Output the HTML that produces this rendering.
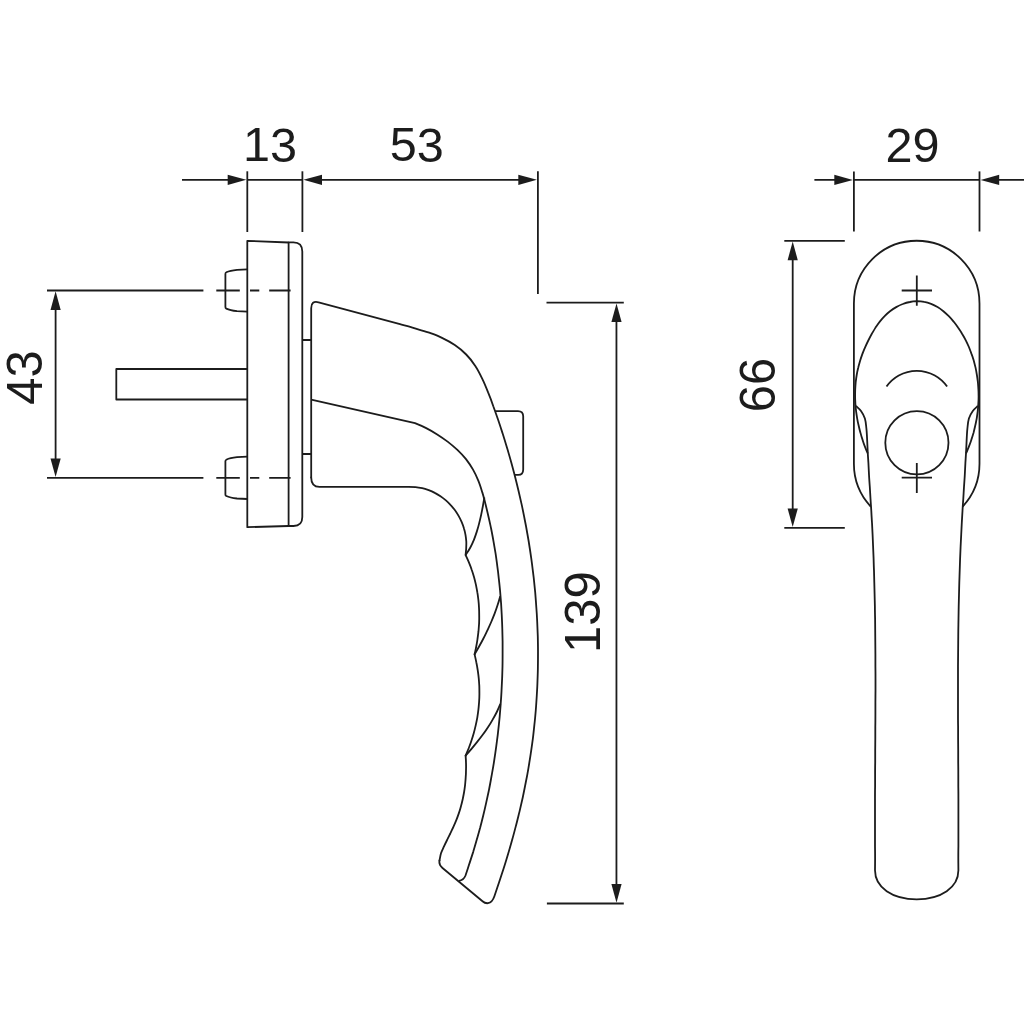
<!DOCTYPE html>
<html lang="en">
<head>
<meta charset="utf-8">
<title>Window handle – dimensional drawing</title>
<style>
html,body{margin:0;padding:0;background:#fff;}
body{width:1024px;height:1024px;overflow:hidden;}
svg{display:block;}
.ln{fill:none;stroke:#1c1c1c;stroke-width:1.8;stroke-linecap:butt;stroke-linejoin:round;}
.ar{fill:#1c1c1c;stroke:none;}
.tx{font-family:"Liberation Sans",sans-serif;font-size:49.0px;fill:#1c1c1c;text-anchor:middle;}
</style>
</head>
<body>
<svg width="1024" height="1024" viewBox="0 0 1024 1024" role="img" aria-label="Window handle dimensional drawing">
<rect width="1024" height="1024" fill="#fff"/>
<g class="ln">
<path d="M182,179.8 H232 M247.3,179.8 H302.4 M318,179.8 H522"/>
<path d="M247.3,171.3 V232"/>
<path d="M302.4,171.3 V232"/>
<path d="M537.9,171.3 V293.9"/>
<path d="M47,290.5 H203.4"/>
<path d="M216.3,290.5 H239.8 M250,290.5 H259.3 M269.2,290.5 H290.6"/>
<path d="M47,477.9 H203.4"/>
<path d="M216.3,477.9 H239.8 M250,477.9 H259.3 M269.2,477.9 H290.6"/>
<path d="M55.6,302.5 V465.9"/>
<path d="M546.5,302.6 H623.8"/>
<path d="M546.9,903.5 H623.8"/>
<path d="M616.45,316 V890"/>
<path d="M288.6,242.5 L247.3,240.8 V527.2 L288.6,526"/>
<path d="M288.6,526 V242.3 H293.5 Q302.3,242.3 302.3,251.5 V517 Q302.3,526 293.5,526 Z"/>
<path d="M247.3,269.3 L237,269.8 Q230,270.5 226.3,272.3 Q225.4,272.7 225.4,273.9 V307.0 Q225.4,308.2 226.3,308.6 Q230,310.4 237,311.1 L247.3,311.6"/>
<path d="M247.3,456.7 L237,457.2 Q230,457.9 226.3,459.7 Q225.4,460.1 225.4,461.3 V494.4 Q225.4,495.6 226.3,496.0 Q230,497.8 237,498.5 L247.3,499.0"/>
<path d="M247.3,369 H116.3 V399.5 H247.3"/>
<path d="M302.3,340 H311.2 M302.3,454 H311.2"/>
<path d="M311.2,477.5 V308.2 Q311.2,300.4 318.6,302.3 L400,324.2 C402.4,324.9 409.4,326.7 414.1,328.1 C418.8,329.5 423.6,330.8 428.3,332.4 C432.9,334.1 437.6,335.7 442.0,337.9 C446.4,340.0 450.8,342.3 454.8,345.1 C458.9,347.9 462.8,351.0 466.2,354.5 C469.6,357.9 472.6,361.8 475.3,365.9 C478.0,369.9 480.2,374.4 482.3,378.8 C484.5,383.2 486.3,387.8 488.1,392.4 C490.0,396.9 491.7,401.5 493.3,406.2 C495.0,410.8 496.6,415.4 498.2,420.0 C499.8,424.7 501.3,429.4 502.8,434.0 C504.3,438.7 505.7,443.4 507.1,448.1 C508.5,452.8 509.9,457.5 511.2,462.2 C512.5,467.0 513.8,471.7 515.0,476.5 C516.2,481.2 517.4,486.0 518.5,490.7 C519.6,495.5 520.7,500.3 521.8,505.1 C522.8,509.9 523.8,514.7 524.7,519.5 C525.7,524.3 526.6,529.2 527.4,534.0 C528.3,538.8 529.1,543.7 529.8,548.5 C530.6,553.4 531.2,558.2 531.9,563.1 C532.5,568.0 533.1,572.8 533.7,577.7 C534.2,582.6 534.7,587.5 535.2,592.3 C535.6,597.2 536.0,602.1 536.3,607.0 C536.7,611.9 537.0,616.8 537.2,621.7 C537.4,626.6 537.6,631.5 537.8,636.4 C537.9,641.3 538.0,646.2 538.0,651.2 C538.0,656.1 538.0,661.0 537.9,665.9 C537.9,670.8 537.7,675.7 537.5,680.6 C537.4,685.5 537.1,690.4 536.8,695.3 C536.5,700.2 536.2,705.1 535.8,710.0 C535.4,714.9 535.0,719.7 534.4,724.6 C533.9,729.5 533.4,734.4 532.8,739.2 C532.1,744.1 531.5,749.0 530.7,753.8 C530.0,758.7 529.2,763.5 528.4,768.3 C527.6,773.2 526.7,778.0 525.7,782.8 C524.8,787.6 523.8,792.5 522.8,797.3 C521.7,802.0 520.6,806.8 519.5,811.6 C518.3,816.4 517.2,821.2 515.9,825.9 C514.7,830.7 513.4,835.4 512.1,840.1 C510.8,844.9 509.4,849.6 508.0,854.3 C506.6,859.0 505.2,863.7 503.7,868.3 C502.2,873.0 500.6,877.6 499.1,882.3 C497.5,887.0 495.2,893.9 494.4,896.2 Q492.3,902.3 488,903.2 Q485,903.5 482.5,901.25 L442.5,868 Q438.6,864.8 439.5,860.5" stroke-linecap="round"/>
<path d="M465.6,755.6 C465.7,756.8 466.0,760.4 466.0,762.8 C466.1,765.3 466.1,767.7 466.0,770.1 C466.0,772.6 465.9,775.0 465.7,777.4 C465.6,779.9 465.3,782.3 465.1,784.8 C464.8,787.2 464.5,789.6 464.1,792.0 C463.7,794.5 463.2,796.9 462.7,799.3 C462.2,801.6 461.6,804.0 460.9,806.4 C460.3,808.7 459.6,811.1 458.8,813.4 C458.0,815.7 457.2,818.0 456.3,820.2 C455.4,822.5 454.4,824.7 453.4,826.9 C452.4,829.1 451.3,831.3 450.3,833.5 C449.2,835.7 448.1,837.8 447.1,840.0 C446.0,842.2 444.9,844.4 443.9,846.6 C442.9,848.8 441.8,851.0 441.0,853.3 C440.3,855.6 439.8,859.3 439.5,860.5" stroke-linecap="round"/>
<path d="M474.6,654.4 C474.9,655.7 475.8,659.6 476.3,662.2 C476.9,664.8 477.3,667.4 477.7,670.0 C478.1,672.7 478.5,675.3 478.7,677.9 C479.0,680.6 479.1,683.2 479.3,685.9 C479.4,688.5 479.4,691.2 479.4,693.8 C479.4,696.5 479.3,699.1 479.1,701.8 C478.9,704.4 478.7,707.1 478.4,709.7 C478.1,712.4 477.7,715.0 477.3,717.6 C476.8,720.2 476.3,722.8 475.7,725.4 C475.1,728.0 474.5,730.6 473.8,733.1 C473.1,735.7 472.3,738.2 471.4,740.7 C470.6,743.3 469.6,745.8 468.7,748.2 C467.7,750.7 466.1,754.4 465.6,755.6" stroke-linecap="round"/>
<path d="M465.6,555.0 C466.1,556.2 467.8,559.8 468.8,562.2 C469.8,564.6 470.8,567.0 471.6,569.5 C472.5,572.0 473.3,574.5 474.0,577.0 C474.7,579.5 475.3,582.0 475.9,584.6 C476.4,587.1 476.9,589.7 477.3,592.2 C477.8,594.8 478.1,597.4 478.4,600.0 C478.7,602.6 478.9,605.2 479.0,607.8 C479.2,610.4 479.2,613.0 479.2,615.6 C479.3,618.2 479.2,620.8 479.1,623.4 C478.9,626.0 478.7,628.6 478.5,631.2 C478.2,633.8 477.9,636.4 477.5,639.0 C477.2,641.6 476.7,644.2 476.2,646.7 C475.7,649.3 474.9,653.1 474.6,654.4" stroke-linecap="round"/>
<path d="M311.2,477.5 Q311.2,486.9 319.5,486.9 H408.75 C409.9,486.9 413.3,486.9 415.5,487.1 C417.8,487.3 420.0,487.7 422.2,488.2 C424.4,488.7 426.6,489.4 428.7,490.1 C430.8,490.9 432.8,491.8 434.8,492.9 C436.8,493.9 438.7,495.1 440.5,496.3 C442.4,497.6 444.2,499.0 445.9,500.4 C447.6,501.9 449.2,503.4 450.7,505.1 C452.2,506.7 453.6,508.5 455.0,510.3 C456.3,512.1 457.5,514.0 458.6,515.9 C459.7,517.8 460.7,519.9 461.6,521.9 C462.5,524.0 463.3,526.1 463.9,528.2 C464.6,530.4 465.1,532.5 465.5,534.8 C465.9,537.0 466.1,539.2 466.3,541.5 C466.4,543.7 466.3,546.0 466.2,548.2 C466.1,550.5 465.7,553.9 465.6,555.0" stroke-linecap="round"/>
<path d="M311.2,399.6 L415,423.1 C416.9,423.9 422.6,426.3 426.2,428.1 C429.9,430.0 433.6,432.1 437.2,434.4 C440.7,436.6 444.3,439.1 447.6,441.6 C451.0,444.2 454.3,447.0 457.4,449.9 C460.4,452.8 463.4,455.9 466.0,459.1 C468.5,462.4 470.9,465.8 472.9,469.4 C475.0,473.0 476.7,476.8 478.3,480.6 C479.9,484.4 481.1,488.4 482.3,492.4 C483.6,496.4 484.6,500.5 485.6,504.5 C486.6,508.6 487.6,512.7 488.5,516.7 C489.5,520.8 490.3,524.9 491.2,529.0 C492.0,533.1 492.8,537.2 493.5,541.3 C494.2,545.4 494.9,549.5 495.6,553.7 C496.2,557.8 496.8,561.9 497.3,566.1 C497.9,570.2 498.4,574.4 498.8,578.6 C499.3,582.7 499.7,586.9 500.1,591.0 C500.4,595.2 500.8,599.4 501.1,603.6 C501.3,607.7 501.6,611.9 501.8,616.1 C502.0,620.3 502.2,624.5 502.3,628.7 C502.4,632.9 502.5,637.0 502.6,641.2 C502.6,645.4 502.6,649.6 502.6,653.8 C502.6,658.0 502.6,662.2 502.5,666.3 C502.4,670.5 502.3,674.7 502.1,678.9 C501.9,683.1 501.7,687.3 501.5,691.4 C501.3,695.6 501.0,699.8 500.7,703.9 C500.4,708.1 500.0,712.3 499.7,716.4 C499.3,720.6 498.9,724.8 498.4,728.9 C498.0,733.1 497.5,737.2 496.9,741.4 C496.4,745.5 495.8,749.7 495.2,753.8 C494.6,757.9 494.0,762.1 493.3,766.2 C492.6,770.3 491.9,774.4 491.1,778.5 C490.4,782.6 489.6,786.7 488.8,790.8 C487.9,794.9 487.0,799.0 486.1,803.1 C485.2,807.2 484.3,811.2 483.3,815.3 C482.3,819.4 481.2,823.4 480.2,827.5 C479.1,831.5 478.0,835.5 476.8,839.6 C475.7,843.6 474.5,847.6 473.3,851.6 C472.0,855.6 470.7,859.6 469.4,863.6 C468.2,867.6 466.2,873.5 465.5,875.5 Q463.5,880.3 459,880.9"/>
<path d="M484.4,497.5 C484.1,498.9 483.4,503.2 482.9,506.0 C482.3,508.9 481.8,511.7 481.2,514.6 C480.6,517.4 479.9,520.3 479.2,523.1 C478.5,526.0 477.7,528.8 476.8,531.6 C475.9,534.4 475.0,537.1 473.9,539.8 C472.8,542.5 471.6,545.1 470.2,547.7 C468.9,550.2 466.4,553.8 465.6,555.0"/>
<path d="M500.2,596.2 C499.8,597.7 498.6,602.1 497.6,605.0 C496.7,607.9 495.7,610.7 494.6,613.6 C493.5,616.4 492.4,619.2 491.2,622.0 C490.0,624.8 488.7,627.5 487.4,630.3 C486.1,633.0 484.8,635.8 483.4,638.5 C482.0,641.2 480.6,643.8 479.1,646.5 C477.6,649.1 475.3,653.1 474.6,654.4"/>
<path d="M500.4,703.8 C499.8,705.1 498.1,709.3 496.8,712.0 C495.5,714.7 494.0,717.3 492.5,719.9 C491.1,722.5 489.5,725.0 487.8,727.5 C486.2,730.0 484.5,732.4 482.7,734.8 C480.9,737.2 479.1,739.6 477.2,741.9 C475.3,744.3 473.4,746.6 471.5,748.9 C469.6,751.1 466.6,754.5 465.6,755.6"/>
<path d="M495.1,411.1 H518 Q523.2,411.1 523.2,416.3 V469.4 Q523.2,474.8 518.2,474.8 H515"/>
<path d="M814.4,179.9 H838 M853.9,179.9 H979.5 M995,179.9 H1024"/>
<path d="M853.9,171.4 V231.5"/>
<path d="M979.5,171.4 V231.5"/>
<path d="M784.3,240.8 H844.8"/>
<path d="M784.3,527.8 H844.8"/>
<path d="M792.7,254 V514"/>
<path d="M870.7,506.6 A62.8,62.8 0 0 1 853.9,463.7 V303.5 A62.8,62.8 0 0 1 979.5,303.5 V463.7 A62.8,62.8 0 0 1 962.7,506.6"/>
<path d="M966.0,453.5 C966.5,452.4 967.9,449.0 968.8,446.8 C969.7,444.5 970.6,442.2 971.3,439.9 C972.1,437.6 972.8,435.2 973.5,432.9 C974.1,430.5 974.7,428.2 975.2,425.8 C975.8,423.4 976.2,421.0 976.7,418.6 C977.1,416.2 977.4,413.8 977.7,411.4 C978.0,408.9 978.2,406.5 978.3,404.1 C978.5,401.6 978.6,399.2 978.6,396.8 C978.6,394.4 978.6,391.9 978.4,389.5 C978.3,387.1 978.1,384.7 977.9,382.2 C977.6,379.8 977.3,377.4 976.9,375.0 C976.5,372.6 976.1,370.2 975.6,367.9 C975.0,365.5 974.4,363.1 973.8,360.8 C973.1,358.5 972.4,356.1 971.5,353.9 C970.7,351.6 969.8,349.3 968.9,347.0 C967.9,344.8 966.9,342.6 965.8,340.4 C964.7,338.2 963.5,336.1 962.2,334.0 C961.0,331.9 959.6,329.8 958.2,327.8 C956.8,325.7 955.3,323.7 953.8,321.8 C952.2,319.9 950.6,318.0 948.8,316.2 C947.1,314.5 945.3,312.8 943.4,311.2 C941.5,309.7 939.6,308.2 937.5,307.0 C935.5,305.8 933.3,304.7 931.1,303.8 C928.9,303.0 926.5,302.3 924.2,301.9 C921.9,301.4 919.4,301.2 917.0,301.2 C914.6,301.3 912.2,301.5 909.9,302.0 C907.5,302.4 905.1,303.1 902.8,304.0 C900.6,304.8 898.3,305.9 896.2,307.1 C894.0,308.3 892.0,309.7 890.0,311.2 C888.1,312.7 886.3,314.3 884.6,316.1 C882.9,317.8 881.3,319.7 879.8,321.6 C878.3,323.5 876.9,325.6 875.5,327.6 C874.2,329.7 873.0,331.8 871.7,334.0 C870.5,336.1 869.4,338.3 868.3,340.5 C867.2,342.7 866.2,344.9 865.2,347.2 C864.2,349.4 863.3,351.7 862.4,353.9 C861.6,356.2 860.8,358.5 860.1,360.8 C859.4,363.2 858.7,365.5 858.2,367.8 C857.6,370.2 857.1,372.6 856.7,375.0 C856.3,377.3 856.0,379.7 855.7,382.2 C855.5,384.6 855.3,387.0 855.2,389.4 C855.1,391.9 855.1,394.3 855.1,396.7 C855.1,399.2 855.3,401.6 855.4,404.0 C855.6,406.5 855.8,408.9 856.1,411.4 C856.4,413.8 856.8,416.2 857.2,418.6 C857.6,421.0 858.1,423.4 858.7,425.8 C859.2,428.2 859.8,430.6 860.5,432.9 C861.1,435.3 861.8,437.6 862.6,439.9 C863.3,442.2 864.1,444.5 865.0,446.8 C865.9,449.1 867.3,452.4 867.8,453.5"/>
<path d="M856.0,406.0 C856.8,406.8 859.5,408.9 861.0,411.0 C862.5,413.1 864.0,415.6 864.9,418.5 C865.8,421.4 866.0,424.8 866.4,428.5 C866.8,432.2 867.0,436.8 867.2,441.0 C867.4,445.2 867.6,449.9 867.8,453.5 C868.0,457.1 868.2,459.3 868.4,462.8 C868.6,466.4 868.8,470.8 869.0,474.8 C869.2,478.8 869.5,482.8 869.8,486.8 C870.0,490.8 870.3,494.8 870.5,498.8 C870.8,502.8 871.0,506.8 871.3,510.8 C871.5,514.7 871.7,518.7 872.0,522.7 C872.2,526.7 872.4,530.7 872.6,534.7 C872.8,538.7 872.9,542.7 873.1,546.7 C873.3,550.6 873.4,554.6 873.6,558.6 C873.7,562.6 873.8,566.6 874.0,570.6 C874.1,574.6 874.2,578.6 874.3,582.6 C874.4,586.6 874.5,590.6 874.6,594.6 C874.7,598.6 874.8,602.6 874.9,606.6 C874.9,610.6 875.0,614.6 875.1,618.6 C875.1,622.6 875.2,626.6 875.2,630.6 C875.2,634.6 875.3,638.6 875.3,642.6 C875.3,646.6 875.4,650.6 875.4,654.6 C875.4,658.6 875.4,662.6 875.4,666.6 C875.5,670.6 875.5,674.6 875.5,678.6 C875.5,682.6 875.5,686.6 875.5,690.6 C875.5,694.6 875.4,698.6 875.4,702.6 C875.4,706.6 875.4,710.6 875.4,714.6 C875.4,718.6 875.4,722.6 875.3,726.6 C875.3,730.6 875.3,734.6 875.3,738.6 C875.3,742.6 875.2,746.6 875.2,750.6 C875.2,754.6 875.2,758.6 875.2,762.6 C875.1,766.6 875.1,770.6 875.1,774.6 C875.1,778.6 875.1,782.6 875.1,786.6 C875.0,790.6 875.0,794.6 875.0,798.6 C875.0,802.6 875.0,806.6 875.0,810.6 C875.0,814.6 875.0,818.6 875.0,822.6 C875.0,826.6 875.0,830.6 875.0,834.6 C875.0,838.6 875.0,842.6 875.0,846.6 C875.1,850.6 875.1,854.6 875.1,858.6 C875.1,862.5 875.0,868.3 875.0,870.3 C875.0,887.5 892.2,899.3 916.7,899.3 C941.2,899.3 958.4,887.5 958.4,870.3 C958.4,868.3 958.3,862.5 958.3,858.6 C958.3,854.6 958.3,850.6 958.4,846.6 C958.4,842.6 958.4,838.6 958.4,834.6 C958.4,830.6 958.4,826.6 958.4,822.6 C958.4,818.6 958.4,814.6 958.4,810.6 C958.4,806.6 958.4,802.6 958.4,798.6 C958.4,794.6 958.4,790.6 958.3,786.6 C958.3,782.6 958.3,778.6 958.3,774.6 C958.3,770.6 958.3,766.6 958.2,762.6 C958.2,758.6 958.2,754.6 958.2,750.6 C958.2,746.6 958.1,742.6 958.1,738.6 C958.1,734.6 958.1,730.6 958.1,726.6 C958.0,722.6 958.0,718.6 958.0,714.6 C958.0,710.6 958.0,706.6 958.0,702.6 C958.0,698.6 958.0,694.6 958.0,690.6 C958.0,686.6 958.0,682.6 958.0,678.6 C958.0,674.6 958.0,670.6 958.0,666.6 C958.0,662.6 958.1,658.6 958.1,654.6 C958.1,650.6 958.2,646.6 958.2,642.6 C958.2,638.6 958.3,634.6 958.3,630.6 C958.4,626.6 958.4,622.6 958.5,618.6 C958.6,614.6 958.6,610.6 958.7,606.6 C958.8,602.6 958.9,598.6 959.0,594.6 C959.1,590.6 959.2,586.6 959.3,582.6 C959.4,578.6 959.6,574.6 959.7,570.6 C959.8,566.6 960.0,562.6 960.1,558.6 C960.3,554.6 960.4,550.6 960.6,546.7 C960.8,542.7 961.0,538.7 961.2,534.7 C961.4,530.7 961.6,526.7 961.8,522.7 C962.0,518.7 962.3,514.7 962.5,510.8 C962.7,506.8 963.0,502.8 963.3,498.8 C963.5,494.8 963.8,490.8 964.0,486.8 C964.3,482.8 964.6,478.8 964.8,474.8 C965.0,470.8 965.2,466.4 965.4,462.8 C965.6,459.3 965.8,457.1 966.0,453.5 C966.2,449.9 966.4,445.2 966.6,441.0 C966.8,436.8 967.0,432.2 967.4,428.5 C967.8,424.8 968.0,421.4 968.9,418.5 C969.8,415.6 971.3,413.1 972.8,411.0 C974.3,408.9 977.0,406.8 977.8,406.0"/>
<path d="M886.5,386.6 A37,37 0 0 1 947.1,386.6"/>
<path d="M885.3,442.8 a31.6,31.6 0 1 0 63.2,0 a31.6,31.6 0 1 0 -63.2,0"/>
<path d="M901.7,290.5 H932 M916.8,275.5 V305.7"/>
<path d="M901.7,477.7 H932 M916.8,462.9 V493.09999999999997"/>
</g>
<g class="ar">
<path d="M246.3,179.8 L227.7,174.7 L227.7,184.9Z"/>
<path d="M303.4,179.8 L322.0,174.7 L322.0,184.9Z"/>
<path d="M536.9,179.8 L518.3,174.7 L518.3,184.9Z"/>
<path d="M55.6,291.3 L50.5,309.9 L60.7,309.9Z"/>
<path d="M55.6,477.1 L50.5,458.5 L60.7,458.5Z"/>
<path d="M616.5,303.5 L611.4,322.1 L621.6,322.1Z"/>
<path d="M616.5,902.7 L611.4,884.1 L621.6,884.1Z"/>
<path d="M852.9,179.9 L834.3,174.8 L834.3,185.0Z"/>
<path d="M980.6,179.9 L999.2,174.8 L999.2,185.0Z"/>
<path d="M792.7,241.6 L787.6,260.2 L797.8,260.2Z"/>
<path d="M792.7,527.0 L787.6,508.4 L797.8,508.4Z"/>
</g>
<g class="tx">
<text transform="translate(270.0,161.5) rotate(0.02) scale(1,1.005)" style="font-size:48.6px">13</text>
<text transform="translate(416.8,161.5) rotate(0.02) scale(1,1.005)" style="font-size:48.6px">53</text>
<text transform="translate(912.5,161.6) rotate(0.02) scale(1,1.005)" style="font-size:48.6px">29</text>
<text transform="translate(41.8,377.6) rotate(-90) scale(1,1.005)">43</text>
<text transform="translate(600.2,612.1) rotate(-90) scale(1,1.005)">139</text>
<text transform="translate(774.7,385.0) rotate(-90) scale(1,1.005)">66</text>
</g>
</svg>
</body>
</html>
